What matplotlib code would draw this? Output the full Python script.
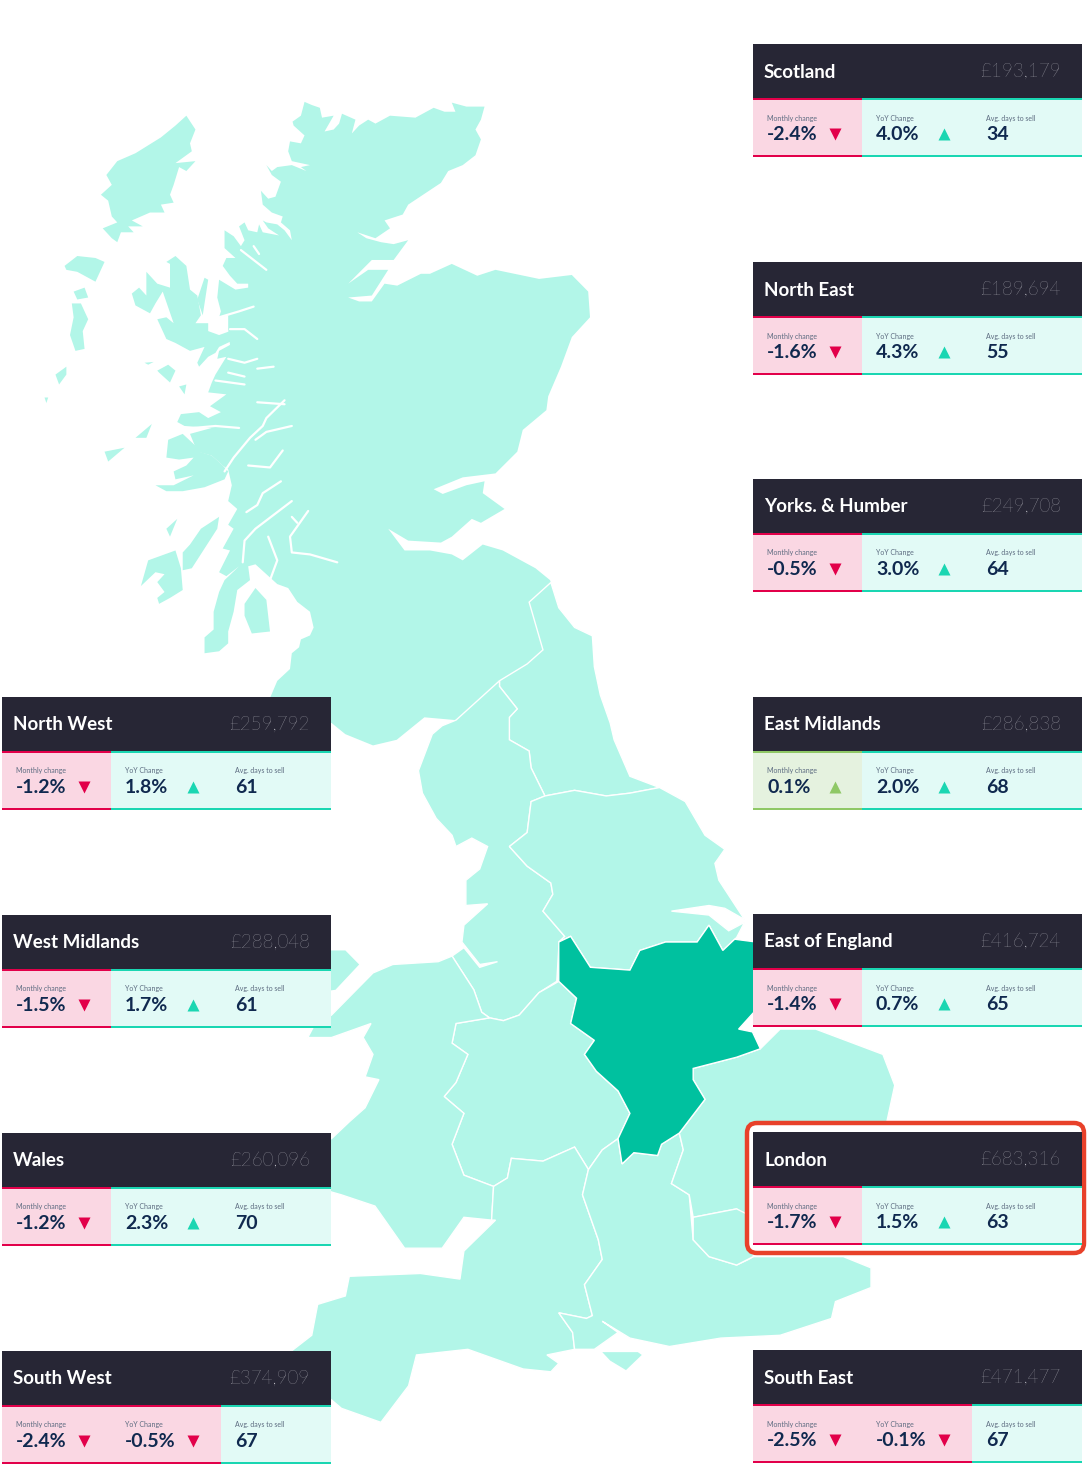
import matplotlib
matplotlib.use('Agg')
import matplotlib.pyplot as plt
from matplotlib.patches import Polygon, Rectangle, FancyBboxPatch

# card values
regions = ['Scotland', 'North East', 'Yorks. & Humber', 'East Midlands', 'East of England', 'London', 'South East',
           'North West', 'West Midlands', 'Wales', 'South West']
prices = ['£193,179', '£189,694', '£249,708', '£286,838', '£416,724', '£683,316', '£471,477',
          '£259,792', '£288,048', '£260,096', '£374,909']
monthly = [-2.4, -1.6, -0.5, 0.1, -1.4, -1.7, -2.5, -1.2, -1.5, -1.2, -2.4]
yoy = [4.0, 4.3, 3.0, 2.0, 0.7, 1.5, -0.1, 1.8, 1.7, 2.3, -0.5]
days = [34, 55, 64, 68, 65, 63, 67, 61, 61, 70, 67]
card_x = [753, 753, 753, 753, 753, 753, 753, 2, 2, 2, 2]
card_y = [44, 262, 479, 697, 914, 1132, 1350, 697, 915, 1133, 1351]

sc_east = [(755,30),(775,38),(797,45),(803,70),(835,65),(810,105),(835,100),(850,85),(858,60),(895,75),(885,110),(905,90),(930,75),(950,85),(990,65),
           (1060,70),(1110,45),(1140,55),(1170,55),(1160,32),(1200,42),(1250,42),(1240,75),(1225,100),(1240,125),(1225,165),(1190,190),(1150,205),
           (1130,235),(1040,290),(1025,315),(975,330),(990,350),(950,375),(900,360),(925,375),(965,385),(1000,390),(1040,380),(1000,430),(940,430),
           (875,490),(930,455),(985,455),(940,520),(875,525),(905,535),(940,535),(975,490),(1010,495),(1075,465),(1100,465),(1160,440),(1230,470),(1280,455),
           (1400,478),(1490,468),(1535,510),(1540,575),(1490,625),(1460,700),(1425,775),(1420,810),(1355,860),(1340,915),(1280,970),(1190,980),
           (1110,1010),(1135,1022),(1200,1000),(1250,990),(1245,1020),(1305,1060),(1240,1095),(1215,1085),(1160,1130),(1130,1145),(1040,1140),(985,1110),
           (1030,1165),(1100,1165),(1160,1175),(1190,1190),(1245,1150),(1300,1165),(1390,1210),(1430,1240)]
sc_west = [(755,30),(745,65),(722,80),(725,90),(755,115),(745,135),(715,130),(710,155),(720,180),(770,190),(745,195),(760,205),(720,190),(680,195),(665,205),
           (650,190),(665,215),(690,232),(675,270),(655,275),(635,255),(640,290),(665,310),(695,320),(690,335),(715,355),(720,380),(700,355),(680,340),
           (650,335),(640,330),(655,350),(685,368),(640,360),(630,340),(625,360),(600,355),(590,335),(575,345),(590,380),(580,395),(560,370),(535,355),
           (535,400),(565,425),(540,425),(530,445),(550,470),(570,490),(600,490),(600,500),(565,505),(520,480),(515,525),(525,560),(520,575),(545,570),
           (545,605),(550,645),(520,660),(515,680),(540,675),(510,720),(500,740),(490,765),(540,770),(495,800),(525,815),(490,830),(465,815),(415,820),
           (405,840),(425,850),(500,855),(440,870),(460,915),(500,925),(530,950),(545,960),(555,1000),(545,1040),(570,1060),(545,1100),(560,1110),(530,1160),
           (550,1165),(520,1220),(540,1230),(575,1205),(535,1240),(520,1270),(505,1320),(505,1365),(480,1385),(480,1425),(520,1420),(545,1400),(545,1370),
           (560,1320),(570,1265),(605,1240),(600,1205),(620,1200),(680,1250),(710,1260),(735,1295),(770,1320),(780,1360),(770,1380),(745,1390),
           (740,1410),(720,1425),(715,1465),(680,1495),(650,1560)]
sc_south = [(660,40),(605,75),(640,160),(600,185),(530,215),(420,285),(340,280),(270,320),(210,330),(140,310),(105,290),(60,290)]
islands_a = [
    [(430,65),(455,100),(440,135),(445,155),(400,185),(455,180),(430,205),(410,195),(395,240),(385,265),(395,285),(360,290),(370,310),(330,310),(280,330),
     (310,345),(270,345),(285,360),(250,360),(240,385),(225,375),(200,350),(240,335),(225,320),(215,280),(195,265),(225,240),(210,215),(240,180),(290,160),(360,120),(400,90)],
    [(95,445),(130,420),(180,425),(205,435),(190,465),(180,485),(130,460),(100,455)],
    [(120,510),(150,500),(160,525),(130,530)],
    [(115,540),(140,540),(160,580),(145,610),(150,655),(125,660),(110,620),(120,575)],
    [(70,720),(100,700),(100,720),(80,745)],
    [(40,778),(50,778),(45,792)],
    [(400,420),(430,445),(440,505),(460,520),(470,570),(455,590),(490,590),(490,610),(520,620),(550,610),(555,635),(520,650),(510,665),(490,675),(465,700),(460,690),
     (480,650),(440,660),(400,640),(375,630),(350,580),(375,575),(395,590),(365,510),(345,540),(330,565),(290,545),(280,515),(300,500),(320,520),(320,460),(350,490),(385,500),(385,440),(375,435)],
    [(460,530),(480,475),(490,480),(475,570)],
    [(350,710),(380,695),(400,710),(385,740),(355,715)],
    [(410,750),(430,745),(425,770)],
    [(315,690),(340,688),(325,695)],
    [(420,870),(455,900),(465,915),(500,925),(530,950),(545,965),(535,985),(480,1005),(420,1015),(375,1015),(345,1000),(395,1000),(450,975),(400,985),(395,965),(430,950),(450,930),(410,935),(375,930),(380,885)],
    [(205,915),(260,905),(215,940)],
    [(290,880),(335,845),(320,880)],
    [(305,1255),(325,1190),(400,1165),(415,1210),(420,1265),(385,1285),(355,1300),(350,1285),(370,1270),(350,1245),(370,1225),(345,1220)],
    [(420,1170),(440,1150),(470,1110),(520,1080),(515,1110),(480,1160),(445,1210),(420,1215)],
    [(375,1110),(405,1085),(385,1130)],
    [(590,1300),(620,1260),(650,1290),(660,1370),(610,1375),(590,1330)],
]
lochs_a = [
    [(700,785),(650,830),(640,850),(605,880),(560,930),(535,965)],
    [(625,790),(700,795)],
    [(720,850),(650,865),(620,885)],
    [(695,912),(660,955),(600,950)],
    [(690,990),(640,1020),(625,1050),(595,1068)],
    [(720,1040),(670,1075),(620,1110),(590,1140),(585,1195)],
    [(765,1065),(715,1130),(720,1170),(770,1175),(845,1195)],
    [(720,1080),(735,1095)],
    [(625,705),(670,700)],
    [(510,735),(590,745)],
    [(545,715),(590,725)],
    [(575,855),(510,850),(450,855)],
    [(545,680),(590,690),(625,680)],
    [(550,605),(590,605),(625,630)],
    [(520,575),(575,560),(615,548)],
    [(580,405),(650,455)],
    [(615,395),(630,415)],
    [(655,1130),(680,1190),(660,1240)],
]
north_east = [(660,40),(680,85),(720,120),(765,135),(770,190),(785,240),(810,290),(820,320),(860,385),(935,405),(860,415),(800,420),(720,410),(645,420),(610,370),
              (605,340),(555,320),(555,280),(575,265),(530,225),(530,215),(600,185),(640,160),(605,75)]
north_west = [(420,285),(530,215),(530,225),(575,265),(555,280),(555,320),(605,340),(610,370),(645,420),(610,430),(600,485),(555,510),(600,545),(660,575),(665,595),(640,625),
              (695,670),(680,690),(675,750),(630,770),(580,810),(540,820),(505,815),(485,805),(465,765),(410,705),(440,690),(480,725),(525,715),(480,720),(435,680),(440,650),
              (500,612),(445,615),(445,570),(480,550),(500,510),(460,495),(420,510),(410,490),(370,460),(335,415),(325,375),(360,310),(385,295)]
yorks = [(645,420),(720,410),(800,420),(860,415),(935,405),(1000,430),(1050,490),(1100,515),(1075,540),(1085,570),(1150,640),(1100,620),(1060,615),(965,625),(1060,632),
         (1110,660),(1150,645),(1130,672),(1095,695),(1060,650),(1030,680),(950,680),(885,695),(860,730),(760,725),(710,670),(680,680),(695,670),(640,625),(665,595),(660,575),
         (600,545),(555,510),(600,485),(610,430)]
east_midlands = [(680,680),(710,670),(760,725),(860,730),(885,695),(950,680),(1030,680),(1060,650),(1095,695),(1125,675),(1180,680),(1180,800),(1135,835),(1170,840),(1190,870),
                 (1130,885),(1020,905),(1020,925),(1050,960),(985,1020),(940,1040),(930,1060),(870,1055),(840,1075),(830,1030),(860,985),(830,945),(775,910),(745,880),(770,855),
                 (710,825),(725,780),(680,750)]
west_midlands = [(680,750),(725,780),(710,825),(770,855),(745,880),(775,910),(830,945),(860,985),(830,1030),(790,1050),(755,1085),(720,1045),(640,1070),(560,1065),(550,1100),
                 (515,1115),(440,1095),(410,1040),(440,985),(390,955),(420,930),(450,880),(410,860),(420,825),(505,815),(540,820),(580,810),(630,770)]
wales = [(410,705),(465,765),(485,805),(505,815),(420,825),(410,860),(450,880),(420,930),(390,955),(440,985),(410,1040),(440,1095),(515,1115),(510,1175),(440,1170),(385,1225),
         (290,1225),(215,1150),(130,1130),(105,1125),(60,1110),(60,1020),(105,1030),(150,1000),(190,975),(225,925),(190,920),(210,880),(185,850),(205,825),(105,850),(45,850),(60,830),
         (105,810),(210,735),(260,720),(375,715)]
anglesey = [(60,695),(140,695),(175,720),(115,765),(60,770)]
south_west = [(515,1115),(550,1100),(560,1065),(640,1070),(720,1045),(755,1085),(740,1130),(780,1210),(790,1245),(745,1290),(765,1345),(750,1350),(680,1340),(715,1375),(720,1405),
              (650,1415),(680,1430),(660,1445),(590,1440),(450,1405),(320,1415),(300,1470),(230,1535),(130,1510),(105,1495),(0,1440),(0,1410),(55,1380),(70,1325),(140,1310),(150,1275),
              (330,1270),(430,1280),(440,1230),(520,1175),(510,1175)]
south_east = [(755,1085),(790,1050),(830,1030),(840,1075),(870,1055),(930,1060),(940,1040),(985,1020),(995,1050),(965,1110),(1010,1130),(1020,1210),(1060,1240),(1130,1255),(1160,1245),
              (1172,1240),(1250,1240),(1400,1240),(1470,1260),(1470,1295),(1380,1320),(1370,1350),(1240,1380),(1090,1385),(960,1400),(860,1385),(790,1355),(830,1375),(770,1405),(720,1405),
              (715,1375),(680,1340),(750,1350),(765,1345),(745,1290),(790,1245),(780,1210),(740,1130)]
wight = [(790,1410),(880,1410),(890,1415),(850,1442),(810,1425)]
east_england = [(985,1020),(1050,960),(1020,925),(1020,905),(1130,885),(1190,870),(1240,835),(1330,835),(1500,880),(1530,935),(1510,1000),(1480,1040),(1470,1200),(1172,1200),(1130,1155),
                (1020,1170),(1010,1130),(965,1110),(995,1050)]
london = [(1020,1170),(1130,1155),(1172,1170),(1172,1240),(1130,1255),(1060,1240),(1020,1210)]


def from_a(pts):
    return [(30 + x / 2.75, 90 + y / 2.53) for x, y in pts]


def from_b(pts):
    return [(290 + x / 2.53, 560 + y / 1.78) for x, y in pts]


mint = '#B2F6E8'
teal = '#00C19F'
dark = '#272635'
navy = '#10294F'
pink = '#FAD7E3'
crimson = '#E2004A'
pale = '#E2FAF6'
aqua = '#1AD6B2'
olive_bg = '#E5F2DF'
olive = '#8FC866'
font = ['Lato', 'DejaVu Sans']

fig = plt.figure(figsize=(10.92, 14.72), dpi=100)
ax = fig.add_axes([0, 0, 1, 1])
ax.set_xlim(0, 1092)
ax.set_ylim(1472, 0)
ax.axis('off')

scotland = from_a(sc_east) + from_b(sc_south) + from_a(sc_west[::-1])
ax.add_patch(Polygon(scotland, fc=mint, ec='none', zorder=1))
for pts in islands_a:
    ax.add_patch(Polygon(from_a(pts), fc=mint, ec='none', zorder=2))
for pts in lochs_a:
    xs, ys = zip(*from_a(pts))
    ax.plot(xs, ys, color='white', lw=1.6, solid_capstyle='round', zorder=3)

for pts in [north_east, north_west, yorks, west_midlands, wales, south_west, south_east, east_england, london]:
    ax.add_patch(Polygon(from_b(pts), fc=mint, ec='white', lw=1, zorder=4))
for pts in [anglesey, wight]:
    ax.add_patch(Polygon(from_b(pts), fc=mint, ec='none', zorder=4))
ax.add_patch(Polygon(from_b(east_midlands), fc=teal, ec='white', lw=1, zorder=5))

# red frame round London
ax.add_patch(FancyBboxPatch((752, 1128), 327, 120, boxstyle='round,pad=5,rounding_size=10', fc='white', ec='#E8412A', lw=3.2, zorder=6))


def stat_cell(x, y, w, label, value, arrow, bg, line, arrow_color):
    ax.add_patch(Rectangle((x, y + 55), w, 58, fc=bg, ec='none', zorder=7))
    ax.add_patch(Rectangle((x, y + 54), w, 2.2, fc=line, ec='none', zorder=8))
    ax.add_patch(Rectangle((x, y + 111), w, 2.2, fc=line, ec='none', zorder=8))
    ax.text(x + 14, y + 74, label, fontsize=5, color='#5C6B80', family=font, va='center', zorder=9)
    ax.text(x + 14, y + 90.5, value, fontsize=14, fontweight='bold', color=navy, family=font, va='center', zorder=9)
    if arrow:
        ax.plot(x + 82, y + 90, marker=arrow, ms=8, color=arrow_color, mec='none', zorder=9)


for i, name in enumerate(regions):
    x, y = card_x[i], card_y[i]
    ax.add_patch(Rectangle((x, y), 329, 55, fc=dark, ec='none', zorder=7))
    ax.text(x + 11, y + 28, name, fontsize=13.5, fontweight='bold', color='white', family=font, va='center', zorder=9)
    ax.text(x + 308, y + 28, prices[i], fontsize=13.5, fontweight='light', color='#CFCFD6', family=font, va='center', ha='right', zorder=9)

    m, v = monthly[i], yoy[i]
    if m < 0:
        stat_cell(x, y, 110, 'Monthly change', f'{m:.1f}%', 'v', pink, crimson, crimson)
    else:
        stat_cell(x, y, 110, 'Monthly change', f'{m:.1f}%', '^', olive_bg, olive, olive)
    # the yoy arrow sits a bit further right in the picture
    if v < 0:
        stat_cell(x + 109, y, 110, 'YoY Change', f'{v:.1f}%', 'v', pink, crimson, crimson)
    else:
        stat_cell(x + 109, y, 110, 'YoY Change', f'{v:.1f}%', '^', pale, aqua, aqua)
    stat_cell(x + 219, y, 110, 'Avg. days to sell', str(days[i]), None, pale, aqua, aqua)

fig.savefig('out.png', dpi=100, facecolor='white')
